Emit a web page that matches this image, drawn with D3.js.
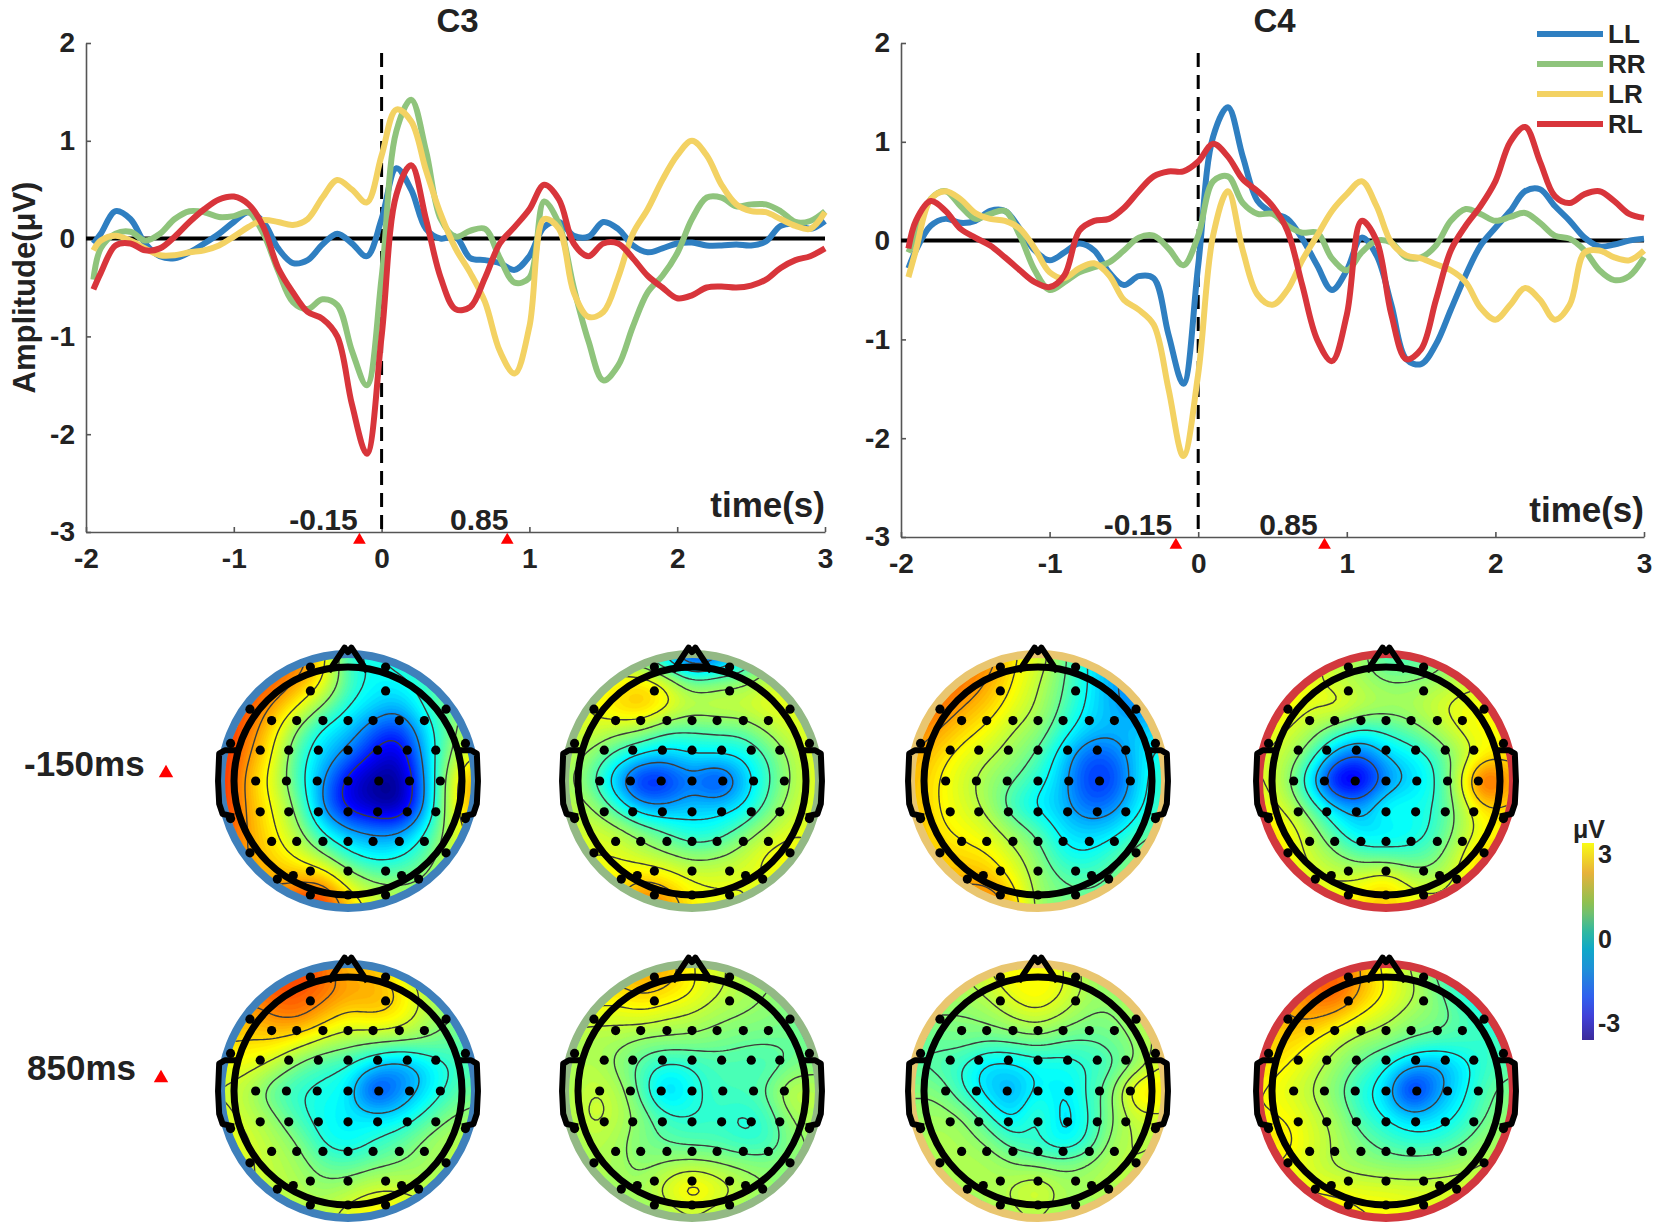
<!DOCTYPE html>
<html>
<head>
<meta charset="utf-8">
<script src="https://cdn.jsdelivr.net/npm/d3@7"></script>
<style>
  body { margin: 0; background: #fff; }
  svg text { font-family: "Liberation Sans", Arial, sans-serif; font-weight: bold; fill: #222; }
</style>
</head>
<body>
<svg id="chart" width="1654" height="1230"></svg>
<script>
const conditions = ['LL', 'RR', 'LR', 'RL'];
const colors = { LL: '#2f7fc1', RR: '#8fc47c', LR: '#f3d263', RL: '#d8353b' };
const ringColors = { LL: '#3f80bb', RR: '#93b985', LR: '#e9c670', RL: '#d2383e' };

const times = [-1.95, -1.9, -1.8, -1.7, -1.6, -1.5, -1.4, -1.3, -1.2, -1.1, -1,
  -0.9, -0.8, -0.7, -0.6, -0.5, -0.4, -0.3, -0.2, -0.1, 0,
  0.1, 0.2, 0.3, 0.4, 0.5, 0.6, 0.7, 0.8, 0.9, 1,
  1.1, 1.2, 1.3, 1.4, 1.5, 1.6, 1.7, 1.8, 1.9, 2,
  2.1, 2.2, 2.3, 2.4, 2.5, 2.6, 2.7, 2.8, 2.9, 3];

const c3LL = [-.05,.05,.28,.2,-.05,-.18,-.2,-.14,-.05,.05,.17,
  .27,.17,-.1,-.25,-.22,-.06,.05,-.05,-.18,.2,
  .72,.5,.1,0,.02,-.2,-.22,-.25,-.32,-.18,
  .12,.17,.03,.02,.17,.1,-.07,-.14,-.1,-.05,
  -.04,-.07,-.07,-.06,-.07,-.03,.13,.15,.1,.18];
const c3RR = [-.42,-.1,.05,.07,-.02,.05,.2,.28,.27,.22,.23,
  .27,.05,-.33,-.65,-.72,-.62,-.68,-1.15,-1.5,-.4,
  1.1,1.42,.9,.2,.02,.08,.1,-.2,-.45,-.4,
  .38,.15,-.5,-1.05,-1.45,-1.3,-.9,-.55,-.38,-.15,
  .2,.42,.42,.33,.35,.35,.28,.17,.18,.28];
const c3LR = [-.12,-.02,.03,-.02,-.1,-.17,-.17,-.14,-.12,-.07,.02,
  .12,.19,.17,.14,.2,.42,.6,.5,.37,.85,
  1.32,1.2,.7,.25,-.1,-.35,-.65,-1.15,-1.38,-.9,
  .2,.1,-.55,-.8,-.75,-.4,.05,.3,.6,.85,
  1,.85,.55,.35,.28,.27,.2,.13,.1,.27];
const c3RL = [-.52,-.35,-.07,-.05,-.12,-.1,.02,.17,.3,.4,.43,
  .35,.12,-.3,-.55,-.75,-.82,-1,-1.7,-2.2,-1,
  .45,.75,.2,-.4,-.72,-.7,-.4,-.05,.12,.3,
  .55,.4,-.05,-.18,-.05,-.05,-.2,-.38,-.5,-.61,
  -.58,-.5,-.49,-.5,-.48,-.42,-.3,-.22,-.18,-.1];

const c4LL = [-.28,-.1,.15,.22,.18,.2,.3,.3,.12,-.1,-.2,
  -.12,-.03,-.1,-.32,-.45,-.36,-.38,-.95,-1.45,-.25,
  1.05,1.35,.85,.4,.28,.22,.02,-.25,-.5,-.3,
  .03,-.15,-.65,-1.2,-1.25,-1.05,-.7,-.35,-.05,.13,
  .3,.5,.52,.35,.2,.03,-.06,-.04,0,.02];
const c4RR = [-.12,.05,.42,.5,.35,.22,.27,.3,.05,-.3,-.5,
  -.42,-.32,-.27,-.22,-.1,.03,.05,-.08,-.25,.05,
  .6,.65,.38,.27,.27,.15,.08,.08,-.18,-.3,
  -.12,0,-.02,-.17,-.17,-.05,.2,.32,.27,.2,
  .24,.28,.18,.05,.02,-.1,-.3,-.4,-.36,-.17];
const c4LR = [-.37,-.1,.42,.5,.42,.28,.22,.2,.12,-.08,-.32,
  -.38,-.28,-.23,-.35,-.6,-.7,-.85,-1.5,-2.18,-1.35,
  .05,.5,-.1,-.55,-.65,-.5,-.2,.05,.3,.47,
  .6,.35,-.02,-.15,-.18,-.24,-.3,-.42,-.68,-.8,
  -.65,-.48,-.6,-.8,-.65,-.12,-.1,-.17,-.2,-.1];
const c4RL = [-.08,.2,.4,.3,.12,.03,-.05,-.17,-.3,-.42,-.47,
  -.35,.1,.2,.22,.33,.5,.65,.7,.7,.8,
  .98,.85,.62,.5,.35,.1,-.45,-1,-1.22,-.75,
  .2,0,-.75,-1.2,-1.1,-.6,-.1,.15,.35,.6,
  1,1.15,.8,.45,.38,.47,.5,.4,.27,.23];

const xTicks = [-2, -1, 0, 1, 2, 3];
const yTicks = [-3, -2, -1, 0, 1, 2];
const markerTimes = [-0.15, 0.85];
const markerLabels = ['-0.15', '0.85'];

// scalp maps, 11 x 11 grids of uV, top row first
const topoLL150 = [
  [2,2,2,2,1.2,-.6,-.7,-.4,-.2,0,0],
  [2.3,2.3,2.2,1.7,1,-.3,-.7,-.7,-.4,-.1,.2],
  [2.3,2.2,1.6,.9,.1,-.6,-.9,-1.2,-.5,0,.3],
  [2.5,2,1.1,0,-.8,-1,-1.7,-2.1,-1,-.1,.6],
  [2.6,1.7,.9,-.4,-1,-1.5,-2.2,-2.7,-1.2,.1,1],
  [2.6,1.4,.7,-.4,-1.3,-2.4,-2.9,-3,-1.5,.5,1.8],
  [2.6,1.5,.9,0,-1.5,-2.4,-2.7,-3,-1.5,.5,1.7],
  [2.4,1.6,1,.3,-.7,-1.2,-1.4,-1.4,-.7,.4,1.2],
  [2.2,1.6,1.2,.8,.2,-.5,-.8,-.7,-.2,.5,1],
  [2,1.8,1.5,1.6,1.7,.6,.1,.1,.2,.6,1],
  [2,2,2,2.5,2.7,1.4,.8,.5,.5,.8,1]];
const topoRR150 = [
  [.5,.5,.3,-.5,-1.2,-2.5,-1.8,-1,0,.3,.3],
  [.7,.7,.9,1.2,.7,-.1,.1,.1,.5,.7,.7],
  [.7,.8,1.3,1.6,1,.6,.7,.7,.9,.8,.6],
  [.6,.7,.4,.2,-.3,-.3,-.2,-.2,.3,.7,.8],
  [.5,.1,-.5,-.9,-1.1,-.8,-.8,-.8,-.3,.4,.8],
  [.4,-.2,-1.3,-2.4,-2.2,-1.5,-2.3,-1.2,-.4,.3,.8],
  [.5,.3,-.5,-1.3,-1.3,-1,-1,-.9,-.2,.5,.8],
  [.6,.7,.5,.1,-.3,-.7,-.6,-.1,.4,.8,.7],
  [.6,.8,.8,.5,.3,.1,.2,.5,1,1,.7],
  [.8,.9,1,1.4,1.2,.8,.8,.8,.7,.8,.7],
  [.8,1,1.2,2.2,1.8,1,.8,.8,.7,.7,.7]];
const topoLR150 = [
  [1.8,1.8,1.8,2,1,.8,0,-.8,-1.2,-1,-1],
  [2.2,2.2,2,1.6,1,.5,-.1,-.7,-1.3,-1.5,-1.3],
  [2.2,2,1.6,1.3,.8,.4,-.2,-.8,-1.2,-1.5,-1.3],
  [1.9,1.6,1.2,.9,.4,.2,-.5,-1,-1.1,-1,-.8],
  [1.6,1.2,.8,.5,.2,-.2,-1,-1.8,-1.7,-.9,-.5],
  [1.5,1,.6,.2,-.1,-.5,-1.1,-2,-2,-.9,-.3],
  [1.5,1,.7,.3,-.5,-.9,-1.1,-1.7,-1.5,-.8,-.3],
  [1.5,1.1,.9,.7,.2,-.2,-.9,-1,-.9,-.4,0],
  [1.5,1.3,1.2,1.1,.6,.1,-.6,-.7,-.3,.2,.2],
  [1.5,1.5,1.5,1.5,1,.2,-.1,-.2,0,.2,.2],
  [1.5,1.8,2,2.2,1.4,.2,0,0,0,.2,.2]];
const topoRL150 = [
  [1,1,.8,.5,.3,-.5,-.3,-.2,.3,.5,.5],
  [1,1.2,.8,.5,.3,.1,.1,.2,.5,.6,.6],
  [1.2,1,.7,1,.6,.4,.4,.7,.9,.9,.8],
  [.9,.7,.4,-.2,-.6,-.4,-.1,.3,.8,1,.9],
  [.7,.5,-.2,-1.4,-1.8,-1,-.8,-.4,.3,.9,1.1],
  [.8,.3,-1,-2.7,-2.7,-1.5,-1,-.6,.7,2.9,1.4],
  [.9,.6,-.2,-1,-1.3,-.4,-.6,-.5,.3,1.3,1.1],
  [1.3,1.1,.4,-.4,-1,-.9,-.8,-.4,.3,.9,1],
  [1.1,1,.6,.2,-.2,-.3,-.3,-.1,.7,1.5,1],
  [1,1,.8,.7,.8,1.3,.5,.4,.9,1.2,1],
  [1,1,1,1,1.2,1.4,1,.9,.9,.9,.8]];
const topoLL850 = [
  [2,2,2.3,2.4,2.1,1.2,1.5,.5,.2,.2,.2],
  [2,2,2.2,2.2,2,1.7,1.6,1.3,.5,.1,.1],
  [1.8,1.4,1.8,2,1.5,1,1.3,1.1,.5,.1,0],
  [1.2,1.2,1.2,.9,.5,.3,.2,.2,.1,-.1,-.2],
  [.8,.8,.5,-.1,-.4,-.5,-1,-1.5,-1,-.5,-.3],
  [.6,.4,-.3,-.5,-.6,-.7,-2.3,-1.5,-1,-.4,0],
  [.8,.5,.2,-.4,-.7,-.8,-.8,-.9,-.4,.1,.2],
  [.9,.7,.4,.1,-.6,-.8,-.5,-.2,.2,.4,.5],
  [.8,.7,.5,.3,-.1,-.2,0,.1,.2,.4,.6],
  [.8,.7,.5,.4,.2,.4,.7,.7,.5,.5,.7],
  [.8,.7,.6,.5,.5,.9,1.1,1,.8,.7,.7]];
const topoRR850 = [
  [1.5,1.5,1.5,1.7,1.6,.8,.7,.3,.3,.2,.1],
  [1.3,1.2,1.1,1.4,1.2,1,.6,.4,.2,.1,.1],
  [.8,.7,.7,.8,.6,.5,.3,.2,.1,0,0],
  [.3,.3,.3,.1,.1,.1,0,-.1,-.1,-.1,-.1],
  [.3,.5,.1,-.3,-.6,-.5,-.3,-.3,-.4,-.1,.1],
  [.3,.6,.5,-.3,-1.3,-.6,-.3,-.3,-.1,.7,.4],
  [.3,.7,.5,.1,-.4,-.5,-.4,-.6,-.4,.3,.4],
  [.2,.5,.3,0,-.2,-.3,-.3,-.5,-.5,.1,.3],
  [.2,.4,.3,.1,.3,.4,.3,.2,.1,.2,.2],
  [.2,.3,.3,.3,.8,1.4,.9,.5,.2,.1,.1],
  [.2,.2,.2,.1,.2,.4,.2,.1,.1,0,0]];
const topoLR850 = [
  [.4,.4,.4,.8,1,.9,.8,.2,.1,.1,.1],
  [.4,.4,.3,.5,.9,1.1,.8,.3,.2,.4,.5],
  [.1,.1,.1,.2,.5,.7,.4,.1,.1,.4,.6],
  [-.1,-.1,0,-.1,-.1,0,-.2,-.2,-.1,.2,.6],
  [-.2,-.3,-.5,-1,-.9,-.7,-.7,-.5,-.3,.1,.8],
  [.1,.1,-.5,-1,-1.4,-.6,-.9,-.4,.1,1.4,1.2],
  [.2,.3,.2,-.4,-1,-.1,-1.1,-.5,.1,.6,.6],
  [.3,.4,.3,.1,-.4,-.5,-.9,-.5,.3,.5,.4],
  [.4,.4,.4,.4,.2,.1,.1,.2,.5,.4,.3],
  [.5,.4,.3,.3,.5,.9,.3,.4,.4,.4,.3],
  [.3,.3,.3,.3,.3,.4,.2,.2,.2,.2,.2]];
const topoRL850 = [
  [1.3,1.3,1.8,2,1.5,.7,.4,-.2,-1,-1.2,-1],
  [1.5,1.5,2,2.4,1.5,1,.6,0,-.5,-1,-1],
  [1.3,1.5,1.7,1.4,.9,.6,.2,.1,-.2,-.5,-.6],
  [1.3,1.3,1,.5,.2,.1,-.1,-.2,-.3,-.4,-.3],
  [1.2,1,.6,.2,-.2,-.6,-1.2,-1.4,-.9,-.4,-.2],
  [1,.7,.4,0,-.6,-.9,-2.6,-1.4,-.8,-.2,.1],
  [1,1,.6,.3,-.4,-.7,-1,-.9,-.6,-.1,.2],
  [1,1.2,.7,.4,0,-.3,-.5,-.5,-.2,.2,.4],
  [1,.9,.6,.3,.2,.1,.1,.2,.3,.5,.6],
  [1,1,.9,.9,.8,.8,.7,.7,.7,.8,.7],
  [1.3,1.3,1.5,1.3,1,1,.9,.8,.8,.7,.7]];

// electrode layout in head radii
const electrodeX = [-.33,.33, -.33,.33, -.86,.86,
  -.67,-.45,-.22,0,.22,.45,.67, -1.03,1.03,
  -.77,-.52,-.26,0,.26,.52,.77,
  -.81,-.54,-.27,0,.27,.54,.81,
  -.77,-.52,-.26,0,.26,.52,.77, -1.03,1.03,
  -.67,-.45,-.22,0,.22,.45,.67, -.86,.86,
  -.33,0,.33, -.48,.47, -.62,.62, -.33,0,.33];
const electrodeY = [-1,-1, -.79,-.79, -.63,-.63,
  -.53,-.53,-.53,-.53,-.53,-.53,-.53, -.33,-.33,
  -.27,-.27,-.27,-.27,-.27,-.27,-.27,
  0,0,0,0,0,0,0,
  .27,.27,.27,.27,.27,.27,.27, .33,.33,
  .53,.53,.53,.53,.53,.53,.53, .63,.63,
  .79,.79,.79, .83,.83, .86,.86, 1,1,1];

const noseX = [-.17, -.03, 0, .03, .17];
const noseY = [-.96, -1.17, -1.13, -1.17, -.96];
const earX = [.98, 1.08, 1.13, 1.14, 1.13, 1.1, 1.0];
const earY = [-.27, -.27, -.24, 0, .2, .29, .31];

const topos = [
  { grid: topoLL150, cond: 'LL', row: 0 }, { grid: topoRR150, cond: 'RR', row: 0 },
  { grid: topoLR150, cond: 'LR', row: 0 }, { grid: topoRL150, cond: 'RL', row: 0 },
  { grid: topoLL850, cond: 'LL', row: 1 }, { grid: topoRR850, cond: 'RR', row: 1 },
  { grid: topoLR850, cond: 'LR', row: 1 }, { grid: topoRL850, cond: 'RL', row: 1 }
];

const parulaStops = ['#3b2a9a', '#4040d8', '#3060ee', '#1e90d8', '#10a8c8', '#30b8a0', '#6fc070', '#90c050', '#e8b23a', '#f9fb15'];
const parulaAt = [0, .12, .22, .36, .46, .55, .64, .7, .85, 1];
const barTicks = [-3, 0, 3];

const svg = d3.select('#chart');
const font = 'Liberation Sans';

const drawPanel = (title, series, box, withYLabel) => {
  const x = d3.scaleLinear().domain([-2, 3]).range([box.left, box.right]);
  const y = d3.scaleLinear().domain([-3, 2]).range([box.bottom, box.top]);
  const g = svg.append('g');

  const xAxis = g.append('g')
    .attr('transform', `translate(0,${box.bottom})`)
    .call(d3.axisBottom(x).tickValues(xTicks).tickFormat(d => d).tickSizeInner(-5).tickSizeOuter(0).tickPadding(16));
  const yAxis = g.append('g')
    .attr('transform', `translate(${box.left},0)`)
    .call(d3.axisLeft(y).tickValues(yTicks).tickFormat(d => d).tickSizeInner(-5).tickSizeOuter(0).tickPadding(11));
  [xAxis, yAxis].forEach(a => {
    a.selectAll('path,line').attr('stroke', '#555').attr('stroke-width', 1.6);
    a.selectAll('text').style('font-size', '28px').attr('fill', '#222').style('font-family', font);
  });

  g.append('line')
    .attr('x1', x(-2)).attr('x2', x(3)).attr('y1', y(0)).attr('y2', y(0))
    .attr('stroke', '#000').attr('stroke-width', 4);
  g.append('line')
    .attr('x1', x(0)).attr('x2', x(0)).attr('y1', y(1.96) + 6).attr('y2', box.bottom)
    .attr('stroke', '#000').attr('stroke-width', 3).attr('stroke-dasharray', '14 8');

  const line = d3.line().x((d, i) => x(times[i])).y(d => y(d)).curve(d3.curveCatmullRom.alpha(0.5));
  conditions.forEach(c => {
    g.append('path').attr('d', line(series[c]))
      .attr('fill', 'none').attr('stroke', colors[c]).attr('stroke-width', 6)
      .attr('stroke-linejoin', 'round');
  });

  g.append('text').attr('x', (x(-2) + x(3)) / 2 + 2).attr('y', 32)
    .attr('text-anchor', 'middle').style('font-size', '33px').text(title);
  g.append('text').attr('x', x(3)).attr('y', box.bottom - 15)
    .attr('text-anchor', 'end').style('font-size', '35px').text('time(s)');

  markerTimes.forEach((t, i) => {
    g.append('text').attr('x', x(t) + box.labelDx[i]).attr('y', box.bottom - 2)
      .attr('text-anchor', 'middle').style('font-size', '30px').text(markerLabels[i]);
    g.append('path')
      .attr('d', d3.symbol(d3.symbolTriangle, 70)())
      .attr('transform', `translate(${x(t)},${box.bottom + 8})`)
      .attr('fill', '#f00');
  });

  if (withYLabel) {
    g.append('text')
      .attr('transform', `translate(35,${(box.top + box.bottom) / 2}) rotate(-90)`)
      .attr('text-anchor', 'middle').style('font-size', '31px').text('Amplitude(μV)');
  }
};

drawPanel('C3', { LL: c3LL, RR: c3RR, LR: c3LR, RL: c3RL }, { left: 86, right: 825, top: 43, bottom: 532, labelDx: [-36, -28] }, true);
drawPanel('C4', { LL: c4LL, RR: c4RR, LR: c4LR, RL: c4RL }, { left: 901, right: 1644, top: 43, bottom: 537, labelDx: [-38, -36] }, false);

// legend
const legendY = d3.scalePoint().domain(conditions).range([34, 124]);
conditions.forEach(c => {
  svg.append('line').attr('x1', 1537).attr('x2', 1603).attr('y1', legendY(c)).attr('y2', legendY(c))
    .attr('stroke', colors[c]).attr('stroke-width', 6);
  svg.append('text').attr('x', 1608).attr('y', legendY(c) + 9)
    .style('font-size', '26px').text(c);
});

// scalp maps, jet with yellow sitting a bit higher on the warm side
const jet = v => {
  const t = v < 0 ? (v + 3) / 6 : 0.5 + v / 7.2;
  const ch = c => Math.round(255 * Math.max(0, Math.min(1, 1.5 - Math.abs(4 * t - c))));
  return `rgb(${ch(3)},${ch(2)},${ch(1)})`;
};
const upsample = (grid, k) => {
  const n = grid.length, m = (n - 1) * k + 1;
  const out = new Float64Array(m * m);
  for (let j = 0; j < m; j++) {
    for (let i = 0; i < m; i++) {
      const gx = i / k, gy = j / k;
      const x0 = Math.min(n - 2, Math.floor(gx)), y0 = Math.min(n - 2, Math.floor(gy));
      const fx = gx - x0, fy = gy - y0;
      out[j * m + i] = grid[y0][x0] * (1 - fx) * (1 - fy) + grid[y0][x0 + 1] * fx * (1 - fy) +
        grid[y0 + 1][x0] * (1 - fx) * fy + grid[y0 + 1][x0 + 1] * fx * fy;
    }
  }
  return { values: out, size: m };
};

const headRadius = 114;
const fieldRadius = 123;
const ringRadius = 127;
const centersX = [348, 692, 1038, 1386];
const centersY = [781, 1091];
const fillLevels = d3.range(-3.2, 3.4, 0.08);
const head = d3.scaleLinear().domain([-1, 1]).range([-headRadius, headRadius]);

topos.forEach((topo, idx) => {
  const cx = centersX[idx % 4], cy = centersY[topo.row];
  const g = svg.append('g').attr('transform', `translate(${cx},${cy})`);
  const clipId = `clip${idx}`;
  g.append('clipPath').attr('id', clipId).append('circle').attr('r', fieldRadius);

  const { values, size } = upsample(topo.grid, 8);
  d3.blur2({ data: values, width: size }, 3);
  const contours = d3.contours().size([size, size]);
  const path = d3.geoPath();
  const s = head(1.1) * 2 / (size - 1);

  const field = g.append('g').attr('clip-path', `url(#${clipId})`)
    .append('g').attr('transform', `scale(${s}) translate(${-size / 2},${-size / 2})`);
  field.append('rect').attr('width', size).attr('height', size).attr('fill', jet(-3.2));
  fillLevels.forEach(t => {
    field.append('path').attr('d', path(contours.contour(values, t))).attr('fill', jet(t)).attr('stroke', jet(t)).attr('stroke-width', 0.1);
  });
  // six contour lines per map, spaced over that map's own range
  const [lo, hi] = d3.extent(values);
  const step = (hi - lo) / 7;
  d3.range(1, 7).forEach(k => {
    field.append('path').attr('d', path(contours.contour(values, lo + k * step)))
      .attr('fill', 'none').attr('stroke', '#3c3c3c').attr('stroke-width', 1.4)
      .attr('vector-effect', 'non-scaling-stroke');
  });

  g.append('circle').attr('r', ringRadius).attr('fill', 'none')
    .attr('stroke', ringColors[topo.cond]).attr('stroke-width', 8);

  const outline = d3.line().x(d => head(d[0])).y(d => head(d[1]));
  g.append('circle').attr('r', headRadius).attr('fill', 'none').attr('stroke', '#000').attr('stroke-width', 7);
  g.append('path').attr('d', outline(d3.zip(noseX, noseY)))
    .attr('fill', 'none').attr('stroke', '#000').attr('stroke-width', 6).attr('stroke-linejoin', 'round');
  [1, -1].forEach(side => {
    g.append('path').attr('d', outline(d3.zip(earX.map(v => v * side), earY)))
      .attr('fill', 'none').attr('stroke', '#000').attr('stroke-width', 6).attr('stroke-linejoin', 'round');
  });
  g.selectAll('circle.dot').data(electrodeX).enter().append('circle')
    .attr('class', 'dot')
    .attr('cx', d => head(d))
    .attr('cy', (d, i) => head(electrodeY[i]))
    .attr('r', 4.6).attr('fill', '#000');
});

// row labels
const rowLabels = [['-150ms', 24, 776, 166, 773], ['850ms', 27, 1080, 161, 1078]];
rowLabels.forEach(r => {
  svg.append('text').attr('x', r[1]).attr('y', r[2]).style('font-size', '35px').attr('fill', '#111').text(r[0]);
  svg.append('path').attr('d', d3.symbol(d3.symbolTriangle, 90)())
    .attr('transform', `translate(${r[3]},${r[4]})`).attr('fill', '#f00');
});

// colour bar
const barScale = d3.scaleLinear().domain([-3, 3]).range([1022, 853]);
const barTop = 843, barBottom = 1040;
const grad = svg.append('defs').append('linearGradient').attr('id', 'parula')
  .attr('x1', 0).attr('x2', 0).attr('y1', 1).attr('y2', 0);
parulaStops.forEach((c, i) => grad.append('stop').attr('offset', parulaAt[i]).attr('stop-color', c));
svg.append('rect').attr('x', 1582).attr('y', barTop).attr('width', 12).attr('height', barBottom - barTop)
  .attr('fill', 'url(#parula)');
barTicks.forEach(t => {
  svg.append('text').attr('x', 1598).attr('y', barScale(t) + 10)
    .style('font-size', '25px').text(t);
});
svg.append('text').attr('x', 1573).attr('y', 838).style('font-size', '25px').text('μV');
</script>
</body>
</html>
